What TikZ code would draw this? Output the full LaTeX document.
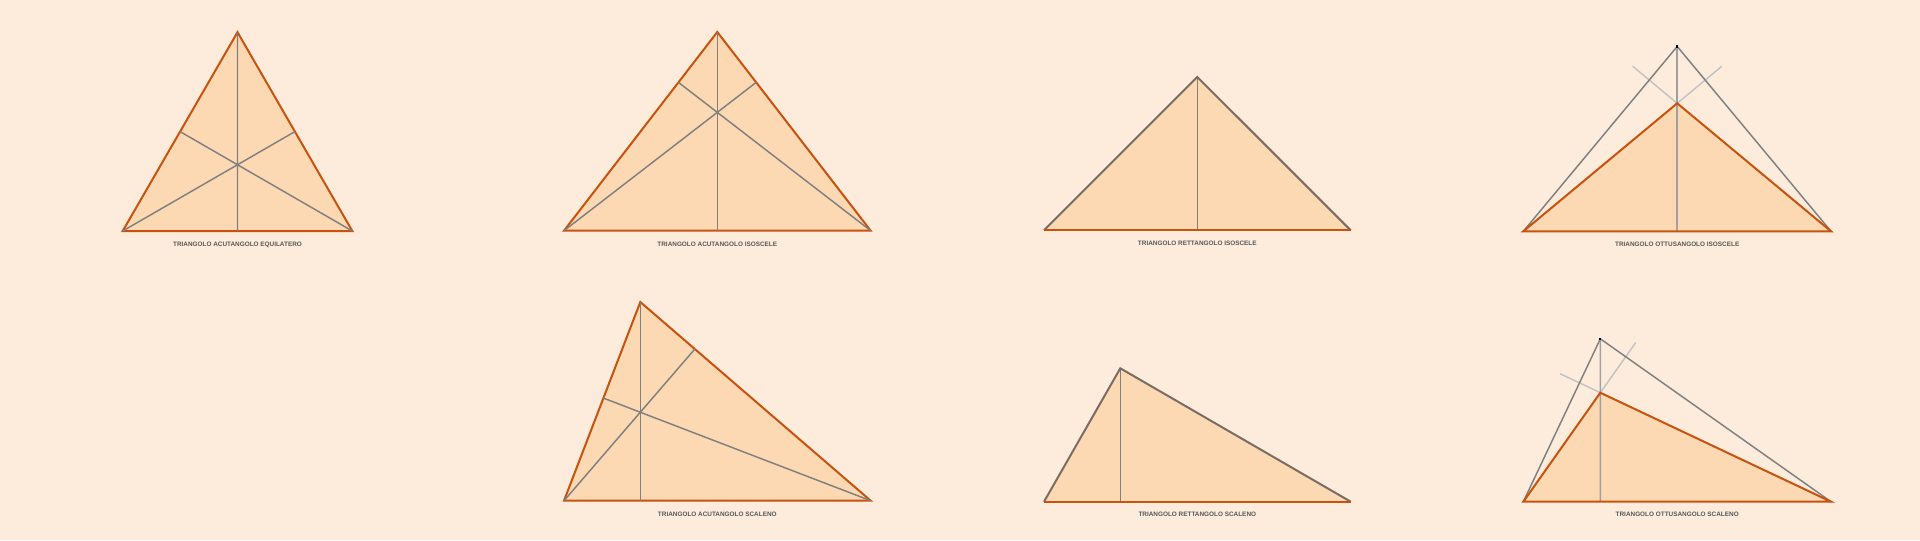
\documentclass[tikz,border=0pt]{standalone}
\usepackage{fontspec}
\setmainfont{Liberation Sans}
\usetikzlibrary{calc}
\definecolor{bgc}{RGB}{253,236,219}
\definecolor{fillc}{RGB}{252,217,178}
\definecolor{edgec}{RGB}{200,82,14}
\definecolor{altc}{RGB}{128,128,128}
\definecolor{valtc}{RGB}{160,160,160}
\definecolor{extc}{RGB}{195,195,195}
\definecolor{legc}{RGB}{122,108,98}
\definecolor{txtc}{RGB}{88,88,88}
\tikzset{
  tri/.style={fill=fillc,draw=edgec,line width=1.5pt,line join=miter},
  trifill/.style={fill=fillc,draw=none},
  altline/.style={draw=altc,line width=1.1pt},
  valtline/.style={draw=valtc,line width=1.1pt},
  extline/.style={draw=extc,line width=1.1pt},
  legline/.style={draw=legc,line width=1.5pt},
  baseline/.style={draw=edgec,line width=1.5pt},
  lbl/.style={text=txtc,font=\fontsize{4.8}{5}\selectfont\bfseries,inner sep=0pt},
  hdot/.style={fill=black,inner sep=0pt,minimum size=1.6pt,draw=none}
}
\begin{document}
\begin{tikzpicture}[x=0.75pt,y=-0.75pt]
\fill[bgc] (0,0) rectangle (1920,540);
\useasboundingbox (0,0) rectangle (1920,540);

% ---- 1: acutangolo equilatero (medians)
\coordinate (a1) at (122.7,231); \coordinate (b1) at (352.3,231); \coordinate (c1) at (237.5,32.2);
\draw[tri] (a1) -- (b1) -- (c1) -- cycle;
\draw[altline] (c1) -- ($(a1)!0.5!(b1)$);
\draw[altline] (a1) -- ($(b1)!0.5!(c1)$);
\draw[altline] (b1) -- ($(a1)!0.5!(c1)$);
\node[lbl] (l1) at (237.5,244.5) {TRIANGOLO ACUTANGOLO EQUILATERO};

% ---- 2: acutangolo isoscele (altitudes)
\coordinate (a2) at (564,230.7); \coordinate (b2) at (870.7,230.7); \coordinate (c2) at (717.3,32);
\draw[tri] (a2) -- (b2) -- (c2) -- cycle;
\draw[altline] (c2) -- ($(a2)!(c2)!(b2)$);
\draw[altline] (a2) -- ($(b2)!(a2)!(c2)$);
\draw[altline] (b2) -- ($(a2)!(b2)!(c2)$);
\node[lbl] (l2) at (717.3,244.5) {TRIANGOLO ACUTANGOLO ISOSCELE};

% ---- 3: rettangolo isoscele
\coordinate (a3) at (1044,230.3); \coordinate (b3) at (1350.7,230.3); \coordinate (c3) at (1197.3,77);
\fill[trifill] (a3) -- (b3) -- (c3) -- cycle;
\draw[altline] (c3) -- ($(a3)!(c3)!(b3)$);
\draw[legline,line join=miter] (a3) -- (c3) -- (b3);
\draw[baseline] (a3) -- (b3);
\node[lbl] (l3) at (1197.3,243.3) {TRIANGOLO RETTANGOLO ISOSCELE};

% ---- 4: ottusangolo isoscele
\coordinate (a4) at (1523.3,231.3); \coordinate (b4) at (1831,231.3); \coordinate (c4) at (1677.2,103.3);
\fill[trifill] (a4) -- (b4) -- (c4) -- cycle;
\coordinate (fa4) at ($(b4)!(a4)!(c4)$);
\coordinate (fb4) at ($(a4)!(b4)!(c4)$);
\coordinate (fc4) at ($(a4)!(c4)!(b4)$);
\coordinate (h4) at (intersection of a4--fa4 and c4--fc4);
\draw[extline] ($(b4)!1.29!(c4)$) -- (c4) -- ($(a4)!1.29!(c4)$);
\draw[altline] (a4) -- (h4) -- (b4);
\draw[valtline] (h4) -- (fc4);
\draw[tri,fill=none] (a4) -- (b4) -- (c4) -- cycle;
\node[hdot] (hd4) at (h4) {};
\node[lbl] (l4) at (1677.2,244.5) {TRIANGOLO OTTUSANGOLO ISOSCELE};

% ---- 6: acutangolo scaleno (altitudes)
\coordinate (a6) at (564,500.7); \coordinate (b6) at (870.7,500.7); \coordinate (c6) at (640.3,302);
\draw[tri] (a6) -- (b6) -- (c6) -- cycle;
\draw[altline] (c6) -- ($(a6)!(c6)!(b6)$);
\draw[altline] (a6) -- ($(b6)!(a6)!(c6)$);
\draw[altline] (b6) -- ($(a6)!(b6)!(c6)$);
\node[lbl] (l6) at (717.3,514.6) {TRIANGOLO ACUTANGOLO SCALENO};

% ---- 7: rettangolo scaleno
\coordinate (a7) at (1044,501.7); \coordinate (b7) at (1350.7,501.7); \coordinate (c7) at (1120.3,368.3);
\fill[trifill] (a7) -- (b7) -- (c7) -- cycle;
\draw[altline] (c7) -- ($(a7)!(c7)!(b7)$);
\draw[legline,line join=miter] (a7) -- (c7) -- (b7);
\draw[baseline] (a7) -- (b7);
\node[lbl] (l7) at (1197.3,514.4) {TRIANGOLO RETTANGOLO SCALENO};

% ---- 8: ottusangolo scaleno
\coordinate (a8) at (1523.3,501.7); \coordinate (b8) at (1831,501.7); \coordinate (c8) at (1600.3,392.7);
\fill[trifill] (a8) -- (b8) -- (c8) -- cycle;
\coordinate (fa8) at ($(b8)!(a8)!(c8)$);
\coordinate (fb8) at ($(a8)!(b8)!(c8)$);
\coordinate (fc8) at ($(a8)!(c8)!(b8)$);
\coordinate (h8) at (intersection of a8--fa8 and c8--fc8);
\draw[extline] ($(b8)!1.175!(c8)$) -- (c8) -- ($(a8)!1.46!(c8)$);
\draw[altline] (a8) -- (h8) -- (b8);
\draw[valtline] (h8) -- (fc8);
\draw[tri,fill=none] (a8) -- (b8) -- (c8) -- cycle;
\node[hdot] (hd8) at (h8) {};
\node[lbl] (l8) at (1677.2,514.2) {TRIANGOLO OTTUSANGOLO SCALENO};
\end{tikzpicture}
\end{document}
